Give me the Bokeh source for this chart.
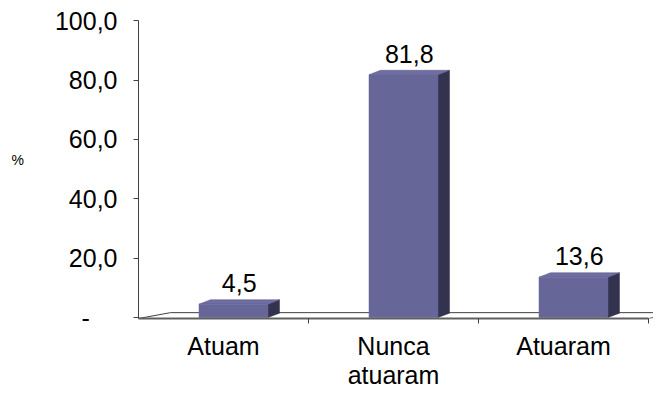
from bokeh.plotting import figure
from bokeh.models import Range1d, LinearAxis, FixedTicker
from bokeh.core.properties import value
from bokeh.embed import file_html
from bokeh.resources import INLINE

# ---- data ----
categories = ["Atuam", "Nunca\natuaram", "Atuaram"]
values = [4.5, 81.8, 13.6]
value_labels = ["4,5", "81,8", "13,6"]
y_ticks = [0, 20, 40, 60, 80, 100]
y_tick_labels = ["-\u00a0\u00a0\u00a0\u00a0", "20,0", "40,0", "60,0", "80,0", "100,0"]

# ---- style / geometry ----
FONT = "Liberation Sans"
FRONT = "#666699"
SIDE = "#33334f"
TOP = "#6e6ea3"
W, H = 653, 392
LEFT = 138
BOTTOM = 66
px_x = 170.0            # pixels per category
px_y = 3.043            # pixels per y unit
bar_w = 69 / px_x
bar_shift = 10 / px_x
ddx = 11.5 / px_x
ddy = 4.5 / px_y
fdx = 32 / px_x
fdy = 6 / px_y
y0 = -0.33
label_gap = 7.0

p = figure(width=W, height=H,
           x_range=Range1d(0, (W - LEFT) / px_x),
           y_range=Range1d(y0, y0 + (H - BOTTOM) / px_y),
           output_backend="svg", toolbar_location=None,
           x_axis_type=None, y_axis_type=None,
           min_border_left=LEFT, min_border_right=0,
           min_border_top=0, min_border_bottom=BOTTOM)
p.outline_line_color = None
p.xgrid.visible = False
p.ygrid.visible = False
p.background_fill_color = "white"

n = len(values)
centers = [i + 0.5 for i in range(n)]

# floor
p.patch([0, n, n + fdx, fdx], [y0, y0, y0 + fdy, y0 + fdy],
        fill_color="white", line_color="#404040", line_width=1)

lefts = [c + bar_shift - bar_w / 2 for c in centers]
rights = [c + bar_shift + bar_w / 2 for c in centers]

# side faces
p.patches([[r, r + ddx, r + ddx, r] for r in rights],
          [[0, ddy, v + ddy, v] for v in values],
          fill_color=SIDE, line_color=SIDE, line_width=0.5)
# top faces
p.patches([[l, r, r + ddx, l + ddx] for l, r in zip(lefts, rights)],
          [[v, v, v + ddy, v + ddy] for v in values],
          fill_color=TOP, line_color="#55557f", line_width=0.5)
# front faces
p.quad(left=lefts, right=rights, bottom=[0] * n, top=values,
       fill_color=FRONT, line_color=FRONT, line_width=0.5)

# value labels
p.text(x=[c + bar_shift + ddx / 2 for c in centers],
       y=[v + label_gap for v in values], text=value_labels,
       text_font=value(FONT), text_font_size="25px", text_color="black",
       text_align="center", text_baseline="alphabetic")

# y axis
yax = LinearAxis(ticker=FixedTicker(ticks=y_ticks), bounds=(y0, 100))
yax.major_label_overrides = {t: l for t, l in zip(y_ticks, y_tick_labels)}
yax.major_label_text_font = FONT
yax.major_label_text_font_size = "25px"
yax.major_label_text_color = "black"
yax.major_label_standoff = 16
yax.major_tick_out = 5
yax.major_tick_in = 0
yax.minor_tick_line_color = None
yax.axis_line_color = "#404040"
yax.major_tick_line_color = "#404040"
yax.axis_label = "%"
yax.axis_label_text_font = FONT
yax.axis_label_text_font_size = "14px"
yax.axis_label_text_font_style = "normal"
yax.axis_label_text_color = "black"
yax.axis_label_text_baseline = "top"
yax.axis_label_standoff = 28
if "axis_label_orientation" in yax.properties():
    yax.axis_label_orientation = "horizontal"
p.add_layout(yax, "left")

# x axis (front edge of floor)
xax = LinearAxis(ticker=FixedTicker(ticks=centers, minor_ticks=list(range(1, n + 1))),
                 bounds=(0, n))
xax.major_label_overrides = {c: l for c, l in zip(centers, categories)}
xax.major_label_text_font = FONT
xax.major_label_text_font_size = "25px"
xax.major_label_text_line_height = 1.06
xax.major_label_text_color = "black"
xax.major_label_standoff = 8
xax.major_tick_line_color = None
xax.major_tick_out = 0
xax.major_tick_in = 0
xax.minor_tick_out = 5
xax.minor_tick_in = 0
xax.minor_tick_line_color = "#404040"
xax.axis_line_color = "#606060"
xax.axis_line_width = 2
p.add_layout(xax, "below")

open("out.html", "w").write(file_html(p, INLINE))
